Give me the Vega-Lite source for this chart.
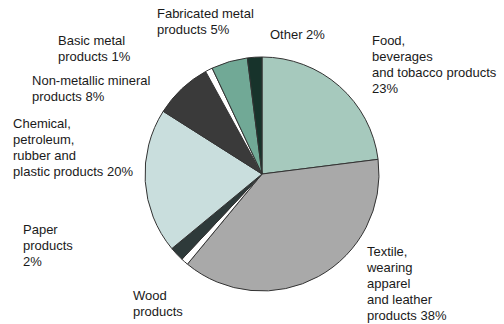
{
  "$schema": "https://vega.github.io/schema/vega-lite/v6.json",
  "width": 484,
  "height": 304,
  "autosize": "none",
  "padding": {"left": 20, "top": 22, "right": 0, "bottom": 0},
  "background": "#ffffff",
  "config": {"view": {"stroke": null}, "text": {"font": "Liberation Sans", "fontSize": 13, "lineHeight": 16, "color": "#1a1a1a"}},
  "data": {
    "values": [
      {"order": 1, "sector": "Food, beverages and tobacco products", "share": 23, "label": ["Food,", "beverages", "and tobacco products", "23%"]},
      {"order": 2, "sector": "Textile, wearing apparel and leather products", "share": 38, "label": ["Textile,", "wearing", "apparel", "and leather", "products 38%"]},
      {"order": 3, "sector": "Wood products", "share": 1, "label": ["Wood", "products"]},
      {"order": 4, "sector": "Paper products", "share": 2, "label": ["Paper", "products", "2%"]},
      {"order": 5, "sector": "Chemical, petroleum, rubber and plastic products", "share": 20, "label": ["Chemical,", "petroleum,", "rubber and", "plastic products 20%"]},
      {"order": 6, "sector": "Non-metallic mineral products", "share": 8, "label": ["Non-metallic mineral", "products 8%"]},
      {"order": 7, "sector": "Basic metal products", "share": 1, "label": ["Basic metal", "products 1%"]},
      {"order": 8, "sector": "Fabricated metal products", "share": 5, "label": ["Fabricated metal", "products 5%"]},
      {"order": 9, "sector": "Other", "share": 2, "label": ["Other 2%"]}
    ]
  },
  "encoding": {
    "theta": {"field": "share", "type": "quantitative", "stack": true},
    "order": {"field": "order", "type": "quantitative"}
  },
  "layer": [
    {
      "mark": {"type": "arc", "radius": 117, "stroke": "#333333", "strokeWidth": 1},
      "encoding": {
        "color": {
          "field": "sector", "type": "nominal", "legend": null,
          "scale": {
            "domain": ["Food, beverages and tobacco products", "Textile, wearing apparel and leather products", "Wood products", "Paper products", "Chemical, petroleum, rubber and plastic products", "Non-metallic mineral products", "Basic metal products", "Fabricated metal products", "Other"],
            "range": ["#a6c9bd", "#a9a9a9", "#ffffff", "#2e3a3a", "#c9dedd", "#3a3a3a", "#ffffff", "#71a996", "#17332b"]
          }
        }
      }
    },
    {"mark": {"type": "text", "radius": 117, "align": "left", "baseline": "top", "dx": 32.6, "dy": -51.6},
     "encoding": {"text": {"condition": {"test": "datum.order === 1", "field": "label"}, "value": ""}}},
    {"mark": {"type": "text", "radius": 117, "align": "left", "baseline": "top", "dx": 48.6, "dy": -31.0},
     "encoding": {"text": {"condition": {"test": "datum.order === 2", "field": "label"}, "value": ""}}},
    {"mark": {"type": "text", "radius": 117, "align": "left", "baseline": "top", "dx": -51.7, "dy": 28.7},
     "encoding": {"text": {"condition": {"test": "datum.order === 3", "field": "label"}, "value": ""}}},
    {"mark": {"type": "text", "radius": 117, "align": "left", "baseline": "top", "dx": -153.7, "dy": -29.6},
     "encoding": {"text": {"condition": {"test": "datum.order === 4", "field": "label"}, "value": ""}}},
    {"mark": {"type": "text", "radius": 117, "align": "left", "baseline": "top", "dx": -132.2, "dy": -63.8},
     "encoding": {"text": {"condition": {"test": "datum.order === 5", "field": "label"}, "value": ""}}},
    {"mark": {"type": "text", "radius": 117, "align": "left", "baseline": "top", "dx": -149.9, "dy": -14.2},
     "encoding": {"text": {"condition": {"test": "datum.order === 6", "field": "label"}, "value": ""}}},
    {"mark": {"type": "text", "radius": 117, "align": "left", "baseline": "top", "dx": -150.9, "dy": -34.3},
     "encoding": {"text": {"condition": {"test": "datum.order === 7", "field": "label"}, "value": ""}}},
    {"mark": {"type": "text", "radius": 117, "align": "left", "baseline": "top", "dx": -72.4, "dy": -53.2},
     "encoding": {"text": {"condition": {"test": "datum.order === 8", "field": "label"}, "value": ""}}},
    {"mark": {"type": "text", "radius": 117, "align": "left", "baseline": "top", "dx": 15.3, "dy": -28.7},
     "encoding": {"text": {"condition": {"test": "datum.order === 9", "field": "label"}, "value": ""}}}
  ]
}
